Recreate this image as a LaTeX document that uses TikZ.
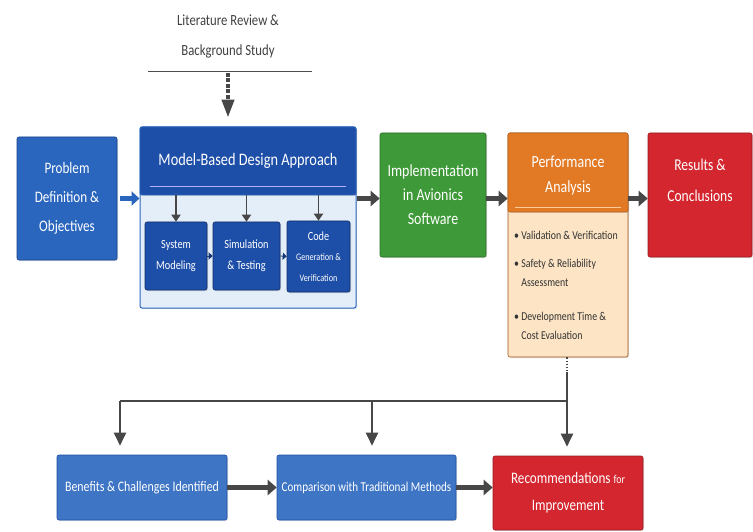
\documentclass[tikz,border=0pt]{standalone}
\usepackage{fontspec}
\setmainfont{Carlito}[FakeStretch=0.82]
\usetikzlibrary{arrows.meta,shadows,calc}
\definecolor{bblue}{HTML}{2A66BE}
\definecolor{dblue}{HTML}{1E4FA8}
\definecolor{lblue}{HTML}{E4EEF9}
\definecolor{gboxc}{HTML}{3E9A38}
\definecolor{oboxc}{HTML}{E27A25}
\definecolor{peach}{HTML}{FCE4C4}
\definecolor{rboxc}{HTML}{D4262F}
\definecolor{arr}{HTML}{474747}
\tikzset{
  box/.style={rounded corners=2pt, text=white, align=center, inner sep=2pt,
    drop shadow={opacity=0.25, shadow xshift=1pt, shadow yshift=-1pt}},
  bluebox/.style={box, fill=bblue, draw=dblue!80!black, line width=0.6pt},
  subbox/.style={box, fill=dblue, draw=dblue!60!black, line width=0.6pt, font=\fontsize{12.5}{21}\selectfont},
  bigarr/.style={-{Triangle[length=9pt,width=15pt]}, line width=5pt, draw=arr},
  thinarr/.style={-{Triangle[length=13pt,width=12pt]}, line width=2pt, draw=arr},
  bul/.style={anchor=west, align=left, text=black!80, font=\fontsize{12}{19}\selectfont, inner sep=0pt},
  plaintext/.style={align=center, text=white, inner sep=0pt},
}
\begin{document}
\begin{tikzpicture}[x=1pt,y=-1pt]
\useasboundingbox (0,0) rectangle (753,532);
% literature review
\node[align=center, text=black!75, font=\fontsize{15.5}{30}\selectfont] (lit) at (228,37) {Literature Review \&\\Background Study};
\coordinate (ll) at (148,71);
\coordinate (lr) at (312,71);
\draw[line width=0.8pt, black!70] (ll) -- (lr);
\coordinate (la) at (228,73);
% problem
\node[bluebox, minimum width=100, minimum height=123, font=\fontsize{16}{29}\selectfont] (prob) at (67,198.5) {Problem\\Definition \&\\Objectives};
% MBD
\node[box, fill=lblue, draw=bblue, line width=1pt, minimum width=216, minimum height=181] (mbd) at (248,217.5) {};
\node[box, fill=dblue, draw=bblue, line width=0.8pt, minimum width=216, minimum height=68, font=\fontsize{17.5}{20}\selectfont, drop shadow={opacity=0}] (mbdh) at (248,161) {\raisebox{2pt}{Model-Based Design Approach}};
\coordinate (hl) at (150,186);
\coordinate (hr) at (346,186);
\draw[line width=0.8pt, blue!30!white] (hl) -- (hr);
\node[subbox, minimum width=62, minimum height=68] (sm) at (176,256) {System\\Modeling};
\node[subbox, minimum width=67, minimum height=68] (st) at (246.5,256) {Simulation\\\& Testing};
\node[subbox, minimum width=63, minimum height=71] (cg) at (318.5,256.5) {{\fontsize{12.5}{14}\selectfont Code}\\[-1pt]{\fontsize{10}{18}\selectfont Generation \&}\\{\fontsize{10}{18}\selectfont Verification}};
\foreach \n in {sm,st,cg}{
  \draw[-{Triangle[length=7pt,width=9pt]}, line width=1.8pt, arr] (\n.north |- mbdh.south) -- (\n.north);
}
\draw[-{Triangle[length=4pt,width=7pt]}, line width=0.8pt, dblue!70!black] (sm.east) -- (st.west);
\draw[-{Triangle[length=4pt,width=7pt]}, line width=0.8pt, dblue!70!black] (st.east) -- (cg.west);
% literature arrow
\draw[-{Triangle[length=18pt,width=12pt]}, line width=4pt, arr, dash pattern=on 4pt off 1.5pt, shorten >=9pt] (la) -- (la |- mbdh.north);
% green
\node[box, fill=gboxc, draw=gboxc!70!black, line width=0.6pt, minimum width=106, minimum height=124, font=\fontsize{17}{24}\selectfont] (impl) at (433,195) {Implementation\\in Avionics\\Software};
% orange
\node[box, fill=peach, draw=oboxc!70!black, line width=0.6pt, minimum width=120, minimum height=224] (perf) at (568,245) {};
\node[box, fill=oboxc, draw=oboxc!80!black, line width=0.6pt, minimum width=120, minimum height=79, drop shadow={opacity=0}] (perfh) at (568,172.5) {};
\node[plaintext, font=\fontsize{17}{25}\selectfont] (perft) at (568,175.5) {Performance\\Analysis};
\coordinate (pl) at (515,207);
\coordinate (pr) at (621,207);
\draw[line width=0.8pt, orange!40!white] (pl) -- (pr);
\node[bul] (b1) at (514,235) {\textbullet\ Validation \& Verification};
\node[bul] (b2) at (514,273) {\textbullet\ Safety \& Reliability\\\phantom{\textbullet\ }Assessment};
\node[bul] (b3) at (514,326) {\textbullet\ Development Time \&\\\phantom{\textbullet\ }Cost Evaluation};
% red
\node[box, fill=rboxc, draw=rboxc!70!black, line width=0.6pt, minimum width=104, minimum height=124] (res) at (700,195) {};
\node[plaintext, font=\fontsize{16.5}{31}\selectfont] (rest) at (700,180) {Results \&\\Conclusions};
% top arrows
\draw[-{Triangle[length=8pt,width=14pt]}, line width=4.5pt, bblue] (prob.east) ++(3,0) coordinate (pa) (pa) -- (mbd.west |- prob.east);
\draw[bigarr] (mbd.east |- prob.east) -- (impl.west |- prob.east);
\draw[bigarr] (impl.east |- prob.east) -- (perf.west |- prob.east);
\draw[bigarr] (perf.east |- prob.east) -- (res.west |- prob.east);
% bottom boxes
\node[box, fill=bblue!90!white, draw=dblue, line width=0.6pt, minimum width=170, minimum height=65, font=\fontsize{14.5}{16}\selectfont] (ben) at (142,487.5) {Benefits \& Challenges Identified};
\node[box, fill=bblue!90!white, draw=dblue, line width=0.6pt, minimum width=179, minimum height=65, font=\fontsize{13.5}{16}\selectfont] (cmp) at (366.5,487.5) {Comparison with Traditional Methods};
\node[box, fill=rboxc, draw=rboxc!70!black, line width=0.6pt, minimum width=150, minimum height=74, font=\fontsize{16}{27}\selectfont] (rec) at (568,493) {Recommendations {\fontsize{12}{13}\selectfont for}\\Improvement};
\draw[bigarr, line width=5pt] (ben.east) -- (cmp.west);
\draw[bigarr, line width=5pt] (cmp.east) -- (cmp.east -| rec.west);
% branching connector
\coordinate (d1) at (567,372);
\coordinate (j3) at (567,401);
\coordinate (j1) at (120,401);
\coordinate (j2) at (372,401);
\draw[line width=1.2pt, arr, dotted] (perf.south -| d1) -- (d1);
\draw[line width=2pt, arr] (d1) -- (j3);
\draw[line width=2pt, arr] (j1) -- (j3);
\draw[thinarr, shorten >=9pt] (j1) -- (ben.north -| j1);
\draw[thinarr, shorten >=9pt] (j2) -- (cmp.north -| j2);
\draw[thinarr, shorten >=9pt] (j3) -- (rec.north -| j3);
\end{tikzpicture}
\end{document}
